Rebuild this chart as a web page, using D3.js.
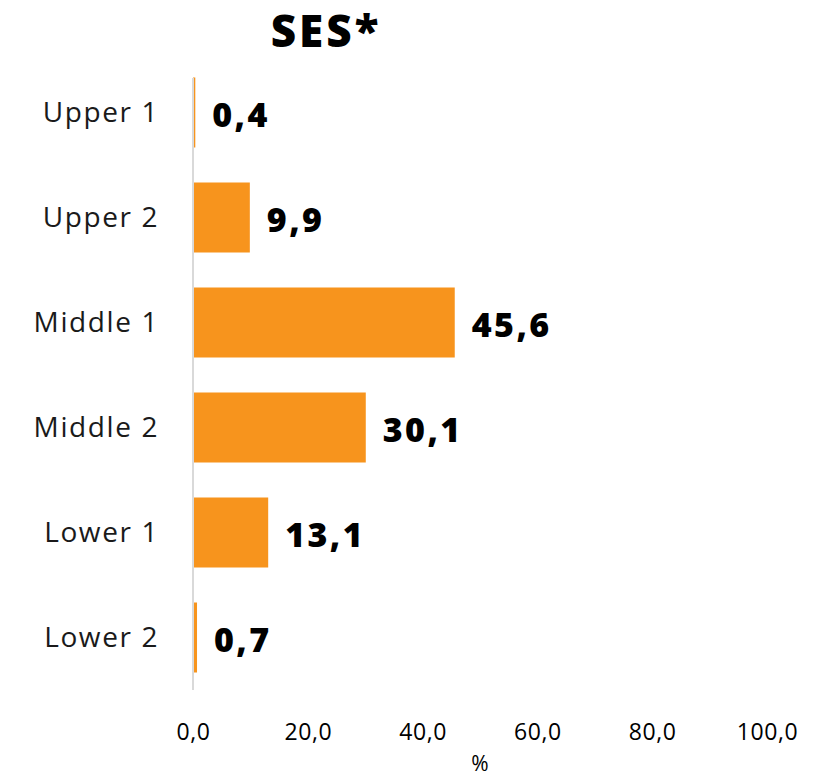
<!DOCTYPE html>
<html>
<head>
<meta charset="utf-8">
<script src="https://cdn.jsdelivr.net/npm/d3@7"></script>
<style>
  body { margin: 0; background: #fff; }
  svg { display: block; font-family: 'Open Sans', sans-serif; }
</style>
</head>
<body>
<svg id="chart" width="819" height="778"></svg>
<script>
const categories = ['Upper 1', 'Upper 2', 'Middle 1', 'Middle 2', 'Lower 1', 'Lower 2'];
const values = [0.4, 9.9, 45.6, 30.1, 13.1, 0.7];
const tickValues = [0, 20, 40, 60, 80, 100];

const svg = d3.select('#chart');
const fmt = v => d3.format('.1f')(v).replace('.', ',');

const x = d3.scaleLinear().domain([0, 100]).range([193, 767]);
const y = d3.scaleBand()
  .domain(categories)
  .range([60, 690])
  .paddingInner(1 / 3)
  .paddingOuter(1 / 6);

svg.append('text')
  .attr('x', 326)
  .attr('y', 47)
  .attr('text-anchor', 'middle')
  .attr('font-size', 44)
  .attr('font-weight', 800)
  .attr('letter-spacing', 3)
  .attr('fill', '#000')
  .text('SES*');

svg.append('g')
  .selectAll('rect')
  .data(values)
  .enter()
  .append('rect')
  .attr('x', x(0))
  .attr('y', (d, i) => y(categories[i]))
  .attr('width', d => x(d) - x(0))
  .attr('height', y.bandwidth())
  .attr('fill', '#F7941D');

svg.append('line')
  .attr('x1', x(0)).attr('x2', x(0))
  .attr('y1', 78).attr('y2', 690)
  .attr('stroke', '#d9d9d9')
  .attr('stroke-width', 2);

// letter-spacing adds a trailing gap, so anchor a little further right
svg.append('g')
  .selectAll('text')
  .data(categories)
  .enter()
  .append('text')
  .attr('x', 159)
  .attr('y', d => y(d) + y.bandwidth() / 2)
  .attr('dy', '0.35em')
  .attr('text-anchor', 'end')
  .attr('font-size', 28)
  .attr('letter-spacing', 1.6)
  .attr('fill', '#1a1a1a')
  .text(d => d);

svg.append('g')
  .selectAll('text')
  .data(values)
  .enter()
  .append('text')
  .attr('x', d => x(d) + 17)
  .attr('y', (d, i) => y(categories[i]) + y.bandwidth() / 2 + 3)
  .attr('dy', '0.35em')
  .attr('font-size', 34)
  .attr('font-weight', 800)
  .attr('letter-spacing', 2.4)
  .attr('fill', '#000')
  .text(d => fmt(d));

const xAxis = svg.append('g')
  .attr('transform', 'translate(0, 721)')
  .call(d3.axisBottom(x).tickValues(tickValues).tickFormat(fmt).tickSize(0));
xAxis.select('.domain').remove();
xAxis.selectAll('text')
  .attr('font-family', "'Open Sans', sans-serif")
  .attr('font-size', 23)
  .attr('letter-spacing', 0.6)
  .attr('fill', '#000');

svg.append('text')
  .attr('x', 480)
  .attr('y', 771)
  .attr('text-anchor', 'middle')
  .attr('font-size', 21)
  .attr('fill', '#000')
  .text('%');
</script>
</body>
</html>
